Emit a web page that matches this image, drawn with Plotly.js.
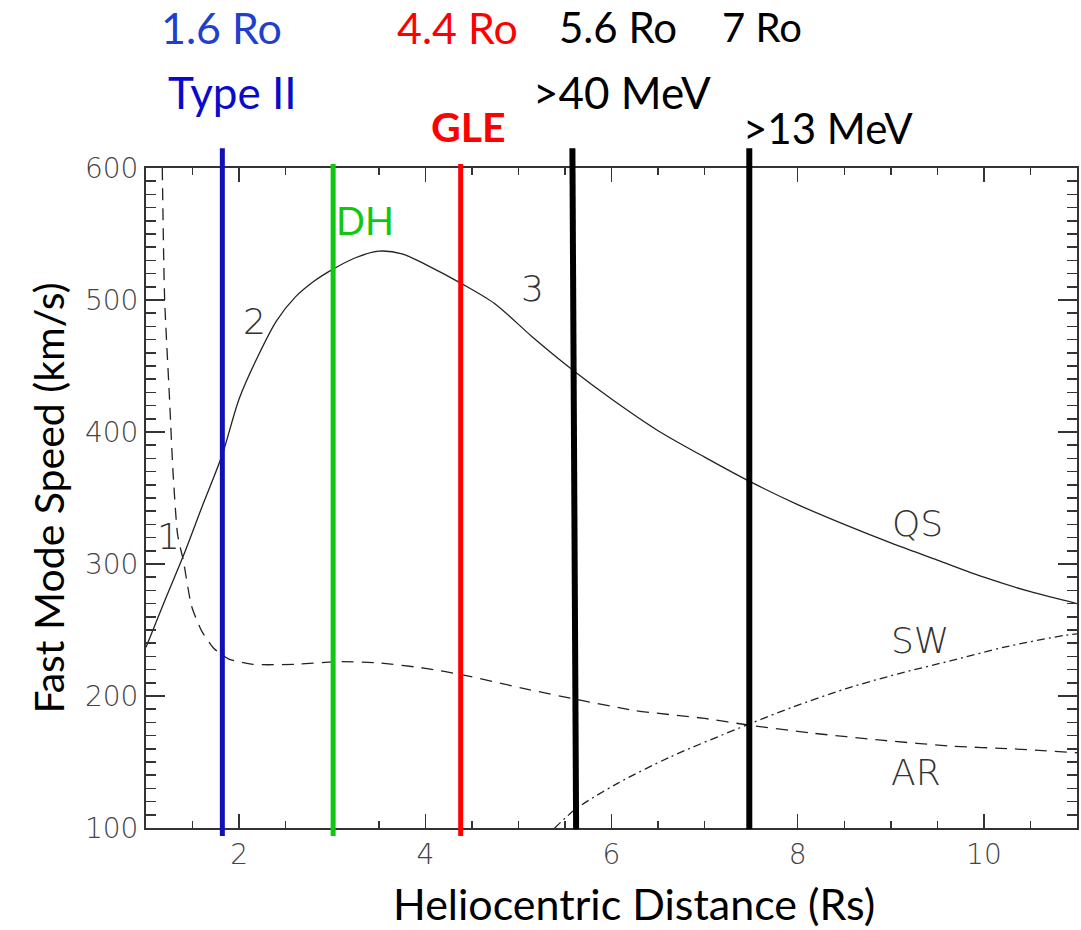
<!DOCTYPE html>
<html>
<head>
<meta charset="utf-8">
<script src="https://cdn.plot.ly/plotly-3.0.1.min.js"></script>
<style>
html,body{margin:0;padding:0;background:#fff;}
#wrap{position:relative;width:1081px;height:930px;}
#base,#over{position:absolute;left:0;top:0;width:1081px;height:930px;}
#over{pointer-events:none;}
</style>
</head>
<body>
<div id="wrap"><div id="base"></div><div id="over"></div></div>
<script>
// Quiet Sun (QS) fast-mode speed profile (solid)
const qsX = [1.0, 1.2, 1.4, 1.6, 1.82, 2.0, 2.2, 2.4, 2.6, 2.8, 3.0, 3.25, 3.5, 3.75, 4.0, 4.4, 4.75, 5.15, 5.6, 6.0, 6.5, 7.0, 7.5, 8.0, 8.5, 9.0, 9.5, 10.0, 10.5, 11.0];
const qsY = [237, 272, 306, 343, 383, 425, 457, 484, 502, 514, 523, 532, 537, 535, 527, 512, 497, 472, 446, 425, 401, 381, 362, 345, 330, 316, 303, 290, 279, 270];

// Active Region (AR) profile (dashed)
const arX = [1.175, 1.2, 1.25, 1.29, 1.34, 1.4, 1.49, 1.6, 1.73, 1.89, 2.15, 2.6, 3.06, 3.5, 4.0, 4.4, 5.1, 5.62, 6.25, 7.0, 7.47, 8.14, 8.9, 9.66, 10.3, 11.0];
const arY = [600, 501, 429, 370, 322, 303, 268, 249, 236, 228, 224, 224, 226, 225, 221, 216, 205, 197.5, 189, 183, 178, 172, 166.5, 162, 160, 157];

// Solar wind (SW) profile (dash-dot)
const swX = [5.39, 5.62, 6.06, 6.63, 7.47, 7.95, 8.52, 9.09, 9.66, 10.22, 10.87, 11.0];
const swY = [100, 114.6, 133.6, 153.8, 178.5, 191.7, 205.6, 217, 227, 237, 246, 247];

// Event heights (vertical markers)
const markerNames = ['Type II', 'DH', 'GLE', '>40 MeV', '>13 MeV'];
const markerTopX = [1.82, 3.01, 4.38, 5.58, 7.48];
const markerBottomX = [1.82, 3.01, 4.38, 5.62, 7.48];
const markerColors = ['#1010B4', '#11C811', '#FF0000', '#000000', '#000000'];

// Tick labels
const xTicks = [2, 4, 6, 8, 10];
const yTicks = [100, 200, 300, 400, 500, 600];

// Top labels (heights in solar radii)
const roLabels = ['1.6 Ro', '4.4 Ro', '5.6 Ro', '7 Ro'];
const roColors = ['#1F3FCC', '#FF0000', '#000000', '#000000'];

// Curve labels
const curveLabels = ['1', '2', '3', 'QS', 'SW', 'AR'];
const curveLabelX = [1.237, 2.17, 5.15, 9.29, 9.31, 9.27];
const curveLabelY = [321, 484, 509, 331, 242, 142];

const lineCol = '#222';
const labFont = 'Lato, "Open Sans", sans-serif';
const idlFont = '"DejaVu Sans", sans-serif';
const axCol = '#333';
const margin = {l: 146, r: 4, t: 168, b: 102, pad: 0};
const xRange = [1, 11];
const yRange = [100, 600];

// ---------- base graph: axes, ticks, QS curve ----------
const baseTraces = [
  {x: qsX, y: qsY, type: 'scatter', mode: 'lines', line: {color: lineCol, width: 1.3, shape: 'spline', smoothing: 0.8}, hoverinfo: 'skip'}
];
const baseLayout = {
  width: 1081, height: 930, margin: margin,
  paper_bgcolor: '#fff', plot_bgcolor: '#fff', showlegend: false,
  xaxis: {
    range: xRange, tickmode: 'linear', tick0: xTicks[0], dtick: xTicks[1] - xTicks[0],
    ticks: 'inside', ticklen: 14, tickwidth: 1.5, tickcolor: axCol,
    showline: true, linecolor: axCol, linewidth: 2, mirror: 'allticks',
    showgrid: false, zeroline: false,
    minor: {dtick: 0.5, ticks: 'inside', ticklen: 7, tickwidth: 1.5, tickcolor: axCol, showgrid: false},
    tickfont: {family: idlFont, size: 28, color: '#444', weight: 200}
  },
  yaxis: {
    range: yRange, tickmode: 'linear', tick0: yTicks[0], dtick: yTicks[1] - yTicks[0],
    ticks: 'inside', ticklen: 19, tickwidth: 1.5, tickcolor: axCol,
    showline: true, linecolor: axCol, linewidth: 2, mirror: 'allticks',
    showgrid: false, zeroline: false,
    minor: {dtick: 10, ticks: 'inside', ticklen: 10, tickwidth: 1.5, tickcolor: axCol, showgrid: false},
    tickfont: {family: idlFont, size: 28, color: '#444', weight: 200},
    title: {text: 'Fast Mode Speed (km/s)', font: {family: labFont, size: 41, color: '#000'}, standoff: 8}
  }
};

// ---------- overlay graph: AR, SW, event lines, labels ----------
const overTraces = [
  {x: arX, y: arY, type: 'scatter', mode: 'lines', line: {color: lineCol, width: 1.3, dash: '12px,8px', shape: 'spline', smoothing: 0.6}, hoverinfo: 'skip'},
  {x: swX, y: swY, type: 'scatter', mode: 'lines', line: {color: lineCol, width: 1.3, dash: '8px,4px,2px,4px', shape: 'spline', smoothing: 0.8}, hoverinfo: 'skip'}
];
const topExt = [1.03, 1.006, 1.006, 1.03, 1.03];
const botExt = [-0.012, -0.012, -0.012, -0.002, -0.002];
const shapes = markerTopX.map((xt, i) => ({
  type: 'line', xref: 'x', yref: 'paper',
  x0: xt, x1: markerBottomX[i], y0: topExt[i], y1: botExt[i],
  line: {color: markerColors[i], width: i >= 3 ? 6 : 5}, layer: 'above'
}));
const annotations = [];
const roPos = [1.806, 4.351, 6.07, 7.617];
const roSizes = [43, 43, 42, 40];
roLabels.forEach((t, i) => annotations.push({
  text: t, x: roPos[i], xref: 'x', y: 1.2136, yref: 'paper', showarrow: false,
  xanchor: 'center', yanchor: 'middle', font: {family: labFont, size: roSizes[i], color: roColors[i]}
}));
const evPos = [[1.924, 1.1152], [3.352, 0.9212], [4.469, 1.0636], [6.113, 1.1152], [8.325, 1.0606]];
const evColors = ['#0A0ACD', '#11C811', '#FF0000', '#000000', '#000000'];
const evSizes = [44, 38, 41, 44, 42];
markerNames.forEach((t, i) => annotations.push({
  text: i === 2 ? '<b>' + t + '</b>' : t, x: evPos[i][0], xref: 'x', y: evPos[i][1], yref: 'paper', showarrow: false,
  xanchor: 'center', yanchor: 'middle', font: {family: labFont, size: evSizes[i], color: evColors[i]}
}));
curveLabels.forEach((t, i) => annotations.push({
  text: t, x: curveLabelX[i], y: curveLabelY[i], xref: 'x', yref: 'y', showarrow: false,
  xanchor: 'center', yanchor: 'middle', font: {family: idlFont, size: 36, color: '#333', weight: 200}
}));
annotations.push({
  text: 'Heliocentric Distance (Rs)', xref: 'paper', yref: 'paper', x: 0.5245, y: -0.1145,
  showarrow: false, xanchor: 'center', yanchor: 'middle', font: {family: labFont, size: 43, color: '#000'}
});
const overLayout = {
  width: 1081, height: 930, margin: margin,
  paper_bgcolor: 'rgba(0,0,0,0)', plot_bgcolor: 'rgba(0,0,0,0)', showlegend: false,
  xaxis: {range: xRange, visible: false, showgrid: false, zeroline: false, fixedrange: true},
  yaxis: {range: yRange, visible: false, showgrid: false, zeroline: false, fixedrange: true},
  shapes: shapes,
  annotations: annotations
};

const cfg = {displayModeBar: false, staticPlot: true};
Plotly.newPlot('base', baseTraces, baseLayout, cfg).then(() => Plotly.newPlot('over', overTraces, overLayout, cfg));
</script>
</body>
</html>
